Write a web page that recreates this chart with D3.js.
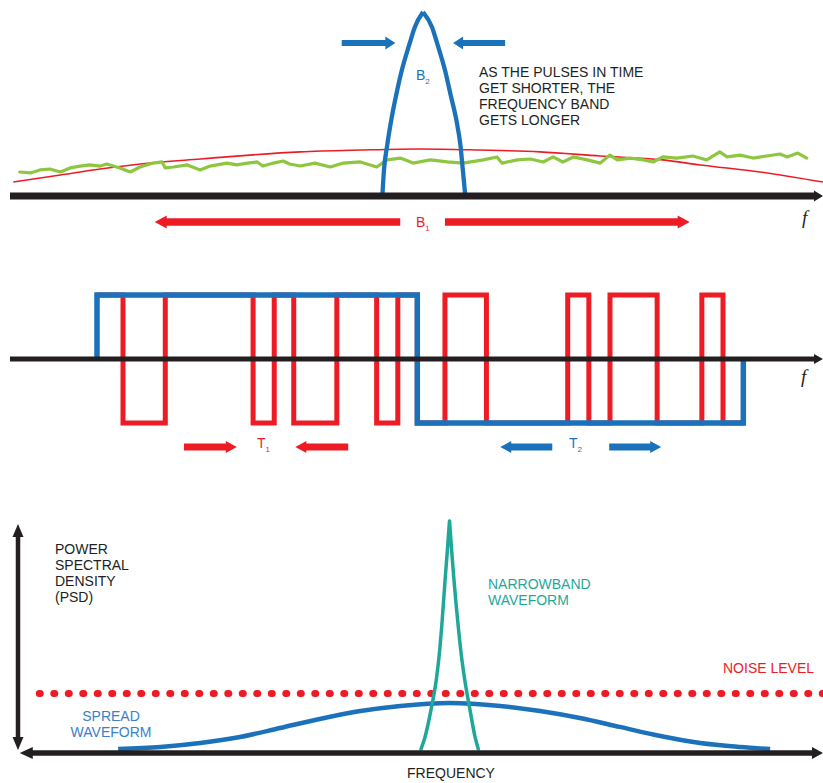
<!DOCTYPE html>
<html>
<head>
<meta charset="utf-8">
<script src="https://cdn.jsdelivr.net/npm/d3@7"></script>
<style>
  body { margin: 0; background: #fff; }
  svg { display: block; }
  text { font-family: "Liberation Sans", Arial, Helvetica, sans-serif; font-size: 14px; }
</style>
</head>
<body>
<div id="chart"></div>
<script>
var W = 823, H = 783;

// ---- top panel: spectra (frequency 0..100, amplitude 0..100)
var envFreq   = [0.4, 6.2, 11.1, 17.2, 23.4, 29.5, 35.7, 43.1, 50.4, 57.8, 65.2, 72.6, 80.3, 84.9, 92.3, 100];
var envLevel  = [7.5, 11.3, 14.5, 17.7, 19.9, 22.0, 23.7, 24.7, 25.3, 24.7, 23.7, 21.5, 19.4, 16.7, 12.9, 7.5];
var noiseFreq = [1.2, 2.5, 3.7, 4.9, 6.2, 7.4, 8.6, 9.8, 11.1, 11.9, 13.5, 14.8, 16.0, 17.6, 18.7, 19.1, 20.1, 21.8,
                 23.4, 24.6, 26.7, 27.9, 29.2, 30.4, 31.1, 32.4, 33.6, 34.4, 35.7, 37.5, 39.4, 41.0, 43.1, 45.1, 46.4,
                 48.0, 49.6, 51.7, 53.8, 55.7, 58.2, 59.9, 60.5, 62.4, 64.0, 65.6, 66.8, 68.0, 69.3, 71.0, 72.6, 73.8,
                 74.7, 76.3, 77.9, 79.1, 80.3, 82.0, 84.0, 85.7, 87.3, 88.2, 89.8, 91.4, 93.1, 94.7, 95.6, 96.9, 98.0];
var noiseLevel = [12.9, 12.4, 14.0, 14.5, 12.9, 15.1, 16.1, 16.7, 16.1, 17.2, 15.1, 12.9, 15.6, 17.7, 18.3, 15.1, 15.6, 16.7,
                  14.0, 16.1, 17.7, 16.7, 17.7, 18.3, 16.1, 17.7, 18.8, 17.2, 16.1, 17.7, 15.6, 17.7, 18.3, 15.6, 19.4,
                  20.4, 17.7, 19.4, 18.3, 17.7, 19.4, 21.0, 17.7, 19.4, 19.9, 18.3, 21.0, 18.3, 21.0, 19.4, 17.7, 22.0,
                  19.4, 20.4, 19.4, 18.3, 21.0, 20.4, 21.5, 19.4, 23.7, 21.0, 22.0, 20.4, 21.5, 22.6, 21.0, 23.1, 20.4];
var pulseFreq  = [45.8, 46.0, 46.4, 46.9, 47.5, 48.2, 49.1, 49.8, 50.8, 51.9, 52.6, 53.5, 54.2, 54.9, 55.4, 55.7, 56.0];
var pulseLevel = [0, 14.0, 27.4, 40.9, 54.3, 67.7, 81.2, 90.9, 98.9, 90.9, 81.2, 67.7, 54.3, 40.9, 27.4, 14.0, 0];
var b2Arrows = [[40.8, 47.4], [60.9, 54.5]];   // [tail, tip]
var b1Arrows = [[48.0, 17.8], [53.5, 83.6]];

// ---- middle panel: time waveforms (time 0..100, level -1..1)
var dataEdges  = [10.7, 50.1, 90.2];
var dataLevels = [1, -1];
var chipEdges  = [10.7, 13.9, 19.1, 29.9, 32.5, 34.9, 40.2, 45.1, 47.7, 50.1, 53.5, 58.6, 68.6, 71.2, 73.8, 79.6, 85.1, 87.7, 90.2];
var chipLevels = [1, -1, 1, -1, 1, -1, 1, -1, 1, -1, 1, -1, 1, -1, 1, -1, 1, -1];
var t1Arrows = [[21.4, 27.9], [41.6, 35.1]];
var t2Arrows = [[66.7, 60.3], [73.7, 80.1]];

// ---- bottom panel: PSD (frequency 0..100, psd 0..100)
var spreadFreq = [13.3, 18.5, 23.4, 28.3, 33.2, 38.1, 43.1, 48.0, 54.1, 60.3, 65.2, 70.1, 75.0, 80.0, 84.9, 89.8, 93.5];
var spreadPsd  = [1.7, 2.6, 4.3, 6.9, 10.7, 14.6, 18.0, 20.2, 21.5, 20.2, 18.0, 15.0, 11.2, 7.3, 4.3, 2.6, 1.7];
var narrowFreq = [50.55, 51.05, 51.78, 52.48, 52.83, 53.10, 53.54, 53.81, 54.06, 54.31, 54.58, 55.14, 55.47, 55.88, 56.58, 57.20, 57.60];
var narrowPsd  = [1.7, 6.9, 18.5, 32.6, 43.3, 54.1, 75.5, 87.6, 99.6, 87.6, 75.5, 54.1, 43.3, 32.6, 18.5, 6.9, 1.7];
var noiseFloor = 25.5;
var noiseFloorStart = 3.6;

var RED = '#ed1c24', BLUE = '#1b72ba', GREEN = '#8dc63f', TEAL = '#1fa89a', INK = '#231f20', BLUE_TXT = '#3a80c8';

var svg = d3.select('#chart').append('svg').attr('width', W).attr('height', H);
svg.append('rect').attr('width', W).attr('height', H).attr('fill', '#fff');

var x = d3.scaleLinear().domain([0, 100]).range([10, 823]);
var yTop = d3.scaleLinear().domain([0, 100]).range([196, 10]);
var yMid = d3.scaleLinear().domain([-1, 1]).range([423, 295]);
var yBot = d3.scaleLinear().domain([0, 100]).range([753, 520]);

var lineFor = function(yScale, curve) {
  return d3.line().x(function(d) { return x(d[0]); }).y(function(d) { return yScale(d[1]); })
           .curve(curve || d3.curveLinear);
};

// smooth flanks that meet in a sharp tip: each side is its own monotone curve
var peakPath = function(xs, ys, yScale) {
  var pts = d3.zip(xs, ys), k = d3.maxIndex(ys), gen = lineFor(yScale, d3.curveMonotoneX);
  return gen(pts.slice(0, k + 1)) + gen(pts.slice(k));
};

// filled arrow with shaft and head, pointing from tail to tip (horizontal)
var hArrow = function(g, tail, tip, yPix, color, shaft, head, len) {
  var x0 = x(tail), x1 = x(tip), dir = x1 > x0 ? 1 : -1, xb = x1 - dir * len;
  var p = d3.path();
  p.moveTo(x0, yPix - shaft / 2); p.lineTo(xb, yPix - shaft / 2); p.lineTo(xb, yPix - head / 2);
  p.lineTo(x1, yPix); p.lineTo(xb, yPix + head / 2); p.lineTo(xb, yPix + shaft / 2);
  p.lineTo(x0, yPix + shaft / 2); p.closePath();
  g.append('path').attr('d', p.toString()).attr('fill', color);
};

// triangle head at (tx,ty) pointing along (dx,dy)
var arrowHead = function(g, tx, ty, dx, dy, w, len) {
  var bx = tx - dx * len, by = ty - dy * len, px = -dy, py = dx;
  g.append('path')
    .attr('d', 'M' + tx + ',' + ty + 'L' + (bx + px * w / 2) + ',' + (by + py * w / 2) +
               'L' + (bx - px * w / 2) + ',' + (by - py * w / 2) + 'Z')
    .attr('fill', INK);
};

var label = function(g, text, xp, yp, color, anchor) {
  return g.append('text').attr('x', xp).attr('y', yp).attr('fill', color || INK)
          .attr('text-anchor', anchor || 'start').text(text);
};

var subLabel = function(g, main, sub, xp, yp, color) {
  var t = g.append('text').attr('x', xp).attr('y', yp).attr('fill', color);
  t.append('tspan').text(main);
  t.append('tspan').attr('dy', 4).style('font-size', '8px').text(sub);
};

var fLabel = function(g, xp, yp) {
  g.append('text').attr('x', xp).attr('y', yp).attr('fill', INK)
    .style('font-family', '"Liberation Serif", "Times New Roman", serif')
    .style('font-style', 'italic').style('font-size', '19px').text('f');
};

// ================= top panel
var topPanel = svg.append('g');
topPanel.append('path').attr('d', lineFor(yTop, d3.curveMonotoneX)(d3.zip(envFreq, envLevel)))
   .attr('fill', 'none').attr('stroke', RED).attr('stroke-width', 1.6);
topPanel.append('path').attr('d', lineFor(yTop)(d3.zip(noiseFreq, noiseLevel)))
   .attr('fill', 'none').attr('stroke', GREEN).attr('stroke-width', 3.2).attr('stroke-linejoin', 'round')
   .attr('stroke-linecap', 'round');
topPanel.append('path').attr('d', peakPath(pulseFreq, pulseLevel, yTop))
   .attr('fill', 'none').attr('stroke', BLUE).attr('stroke-width', 4.3).attr('stroke-linejoin', 'round');
topPanel.append('line').attr('x1', x(0)).attr('x2', x(100) - 8).attr('y1', yTop(0)).attr('y2', yTop(0))
   .attr('stroke', INK).attr('stroke-width', 7);
arrowHead(topPanel, x(100), yTop(0), 1, 0, 11, 9);

b2Arrows.forEach(function(a) { hArrow(topPanel, a[0], a[1], 43, BLUE, 6, 13, 10); });
b1Arrows.forEach(function(a) { hArrow(topPanel, a[0], a[1], 222, RED, 7.5, 13, 12); });
subLabel(topPanel, 'B', '2', 416, 80, BLUE);
subLabel(topPanel, 'B', '1', 416, 227, RED);
['AS THE PULSES IN TIME', 'GET SHORTER, THE', 'FREQUENCY BAND', 'GETS LONGER'].forEach(function(s, i) {
  label(topPanel, s, 479, 77 + i * 16);
});
fLabel(topPanel, 802, 224);

// ================= middle panel
var midPanel = svg.append('g');
var stepPoints = function(edges, levels) {
  var pts = [];
  levels.forEach(function(v, i) { pts.push([edges[i], v]); pts.push([edges[i + 1], v]); });
  return pts;
};
midPanel.append('path').attr('d', lineFor(yMid)(stepPoints(chipEdges, chipLevels)))
   .attr('fill', 'none').attr('stroke', RED).attr('stroke-width', 5).attr('stroke-linejoin', 'miter');
var dataPts = [[dataEdges[0], 0]].concat(stepPoints(dataEdges, dataLevels), [[dataEdges[dataEdges.length - 1], 0]]);
midPanel.append('path').attr('d', lineFor(yMid)(dataPts))
   .attr('fill', 'none').attr('stroke', BLUE).attr('stroke-width', 5.5).attr('stroke-linejoin', 'miter');
midPanel.append('line').attr('x1', x(0)).attr('x2', x(100) - 8).attr('y1', yMid(0)).attr('y2', yMid(0))
   .attr('stroke', INK).attr('stroke-width', 5);
arrowHead(midPanel, x(100), yMid(0), 1, 0, 10, 9);

t1Arrows.forEach(function(a) { hArrow(midPanel, a[0], a[1], 447, RED, 7, 12, 11); });
t2Arrows.forEach(function(a) { hArrow(midPanel, a[0], a[1], 447, BLUE, 7, 12, 11); });
subLabel(midPanel, 'T', '1', 257, 448, RED);
subLabel(midPanel, 'T', '2', 569, 448, BLUE);
fLabel(midPanel, 801, 383);

// ================= bottom panel
var botPanel = svg.append('g');
botPanel.append('line').attr('x1', x(noiseFloorStart)).attr('x2', x(100)).attr('y1', yBot(noiseFloor)).attr('y2', yBot(noiseFloor))
   .attr('stroke', RED).attr('stroke-width', 7).attr('stroke-dasharray', '1,13.5').attr('stroke-linecap', 'round');
botPanel.append('path').attr('d', lineFor(yBot, d3.curveMonotoneX)(d3.zip(spreadFreq, spreadPsd)))
   .attr('fill', 'none').attr('stroke', BLUE).attr('stroke-width', 4.5);
botPanel.append('path').attr('d', peakPath(narrowFreq, narrowPsd, yBot))
   .attr('fill', 'none').attr('stroke', TEAL).attr('stroke-width', 3.5).attr('stroke-linejoin', 'round')
   .attr('stroke-linecap', 'round');

var ax = 18;
botPanel.append('line').attr('x1', ax).attr('x2', ax).attr('y1', yBot(98) + 10).attr('y2', yBot(0) - 10)
   .attr('stroke', INK).attr('stroke-width', 4.5);
arrowHead(botPanel, ax, yBot(98.3), 0, -1, 11, 13);
arrowHead(botPanel, ax, yBot(1.3), 0, 1, 11, 13);
botPanel.append('line').attr('x1', x(1.2) + 10).attr('x2', x(100) - 10).attr('y1', yBot(0)).attr('y2', yBot(0))
   .attr('stroke', INK).attr('stroke-width', 5.5);
arrowHead(botPanel, x(1.2), yBot(0), -1, 0, 12, 13);
arrowHead(botPanel, x(100), yBot(0), 1, 0, 12, 11);

['POWER', 'SPECTRAL', 'DENSITY', '(PSD)'].forEach(function(s, i) { label(botPanel, s, 55, 554 + i * 16); });
['NARROWBAND', 'WAVEFORM'].forEach(function(s, i) { label(botPanel, s, 488, 589 + i * 16, TEAL); });
['SPREAD', 'WAVEFORM'].forEach(function(s, i) { label(botPanel, s, 111, 721 + i * 16, BLUE_TXT, 'middle'); });
label(botPanel, 'NOISE LEVEL', 723, 673, RED);
label(botPanel, 'FREQUENCY', 451, 778, INK, 'middle');
</script>
</body>
</html>
